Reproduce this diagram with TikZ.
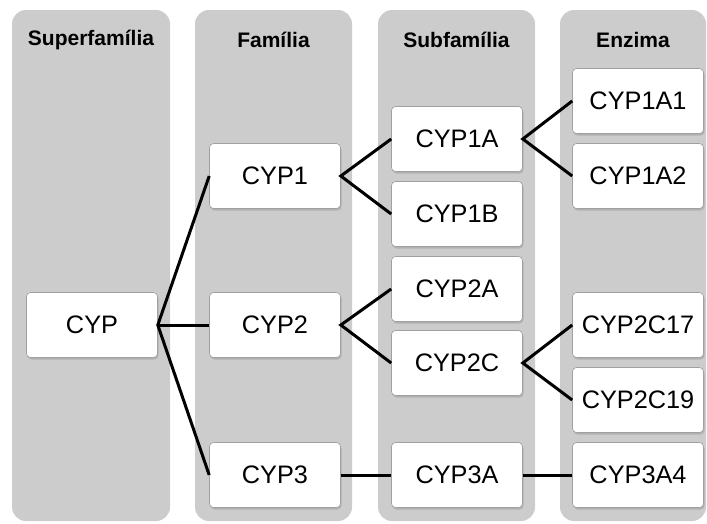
\documentclass[tikz,border=0pt]{standalone}
\usepackage{fontspec}
\setmainfont{Liberation Sans}
\usetikzlibrary{shadows}
\definecolor{colgray}{RGB}{204,204,204}
\definecolor{boxline}{RGB}{160,160,160}

\begin{document}
\begin{tikzpicture}[x=1pt,y=-1pt,
  col/.style={fill=colgray,rounded corners=14pt,minimum height=511pt,inner sep=0pt},
  hd/.style={font=\fontsize{21}{25}\selectfont\bfseries},
  box/.style={draw=boxline,line width=0.6pt,fill=white,rounded corners=4pt,minimum width=131pt,minimum height=65pt,inner sep=0pt,font=\fontsize{25.3}{29}\selectfont,drop shadow={shadow xshift=1pt,shadow yshift=-2pt,opacity=0.35}},
  link/.style={line width=3pt}]
\def\ca{92}
\def\cb{275}
\def\cc{457}
\def\cd{638}
\useasboundingbox (0,0) rectangle (707,523);

% columns
\node[col,minimum width=158pt] (col1) at (91,265.5) {};
\node[col,minimum width=157pt] (col2) at (273.5,265.5) {};
\node[col,minimum width=157pt] (col3) at (456.5,265.5) {};
\node[col,minimum width=146pt] (col4) at (633,265.5) {};
\node[hd] (h1) at (91,40) {Superfamília};
\node[hd] (h2) at (273.5,40) {Família};
\node[hd] (h3) at (456.5,40) {Subfamília};
\node[hd] (h4) at (633,40) {Enzima};

\node[box] (cyp) at (\ca,325) {CYP};

\node[box] (cyp1) at (\cb,176) {CYP1};
\node[box] (cyp2) at (\cb,325) {CYP2};
\node[box] (cyp3) at (\cb,475) {CYP3};

\node[box] (cyp1a) at (\cc,139) {CYP1A};
\node[box] (cyp1b) at (\cc,214) {CYP1B};
\node[box] (cyp2a) at (\cc,289) {CYP2A};
\node[box] (cyp2c) at (\cc,363) {CYP2C};
\node[box] (cyp3a) at (\cc,475) {CYP3A};

\node[box] (cyp1a1) at (\cd,101) {CYP1A1};
\node[box] (cyp1a2) at (\cd,176) {CYP1A2};
\node[box] (cyp2c17) at (\cd,325) {CYP2C17};
\node[box] (cyp2c19) at (\cd,400) {CYP2C19};
\node[box] (cyp3a4) at (\cd,475) {CYP3A4};

\draw[link] (cyp1.west) -- (cyp.east) -- (cyp3.west);
\draw[link] (cyp.east) -- (cyp2.west);
\draw[link] (cyp1a.west) -- (cyp1.east) -- (cyp1b.west);
\draw[link] (cyp2a.west) -- (cyp2.east) -- (cyp2c.west);
\draw[link] (cyp3.east) -- (cyp3a.west);
\draw[link] (cyp1a1.west) -- (cyp1a.east) -- (cyp1a2.west);
\draw[link] (cyp2c17.west) -- (cyp2c.east) -- (cyp2c19.west);
\draw[link] (cyp3a.east) -- (cyp3a4.west);
\end{tikzpicture}
\end{document}
